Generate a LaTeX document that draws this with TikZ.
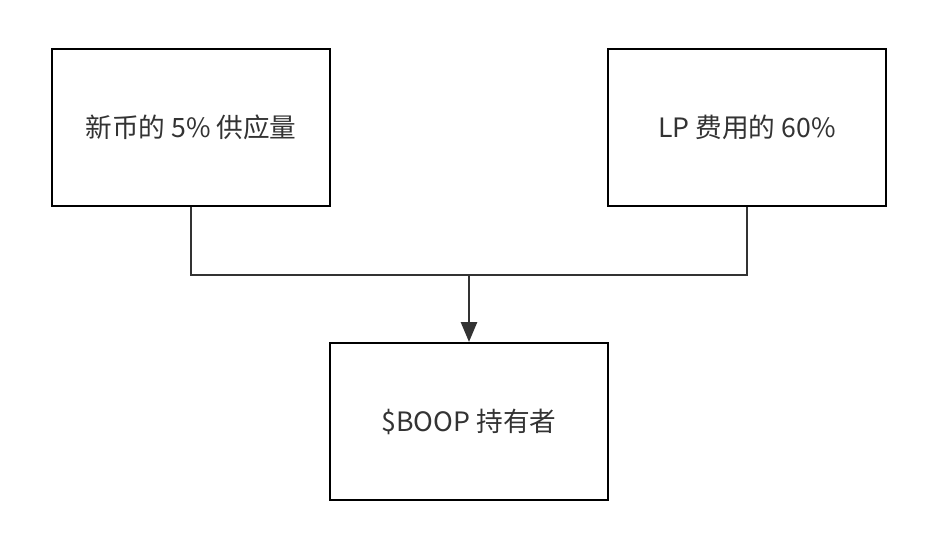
\documentclass[tikz,border=0pt]{standalone}
\usepackage{fontspec}
\setmainfont{Noto Sans CJK SC}
\usetikzlibrary{positioning,arrows.meta}
\tikzset{
  box/.style={draw=black, line width=1.5pt, minimum width=208.5pt, minimum height=117.75pt, inner sep=0pt, font=\fontsize{20}{24}\selectfont, text=black!80},
  link/.style={draw=black!80, line width=2pt}
}
\begin{document}
\begin{tikzpicture}[x=0.75pt, y=-0.75pt]
      \useasboundingbox (0,0) rectangle (938,546);

      \node[box] (supply) at (191,127.5) {新币的 5\% 供应量};
      \node[box] (lpfee)  at (747,127.5) {LP 费用的 60\%};
      \node[box] (holder) at (469,421.5) {\$BOOP 持有者};

      \coordinate (join) at (469,275);

      \draw[link] (supply.south) |- (join) -| (lpfee.south);
      \draw[link, -{Triangle[length=15pt, width=12pt]}] (join) -- (holder.north);

    \end{tikzpicture}
\end{document}
